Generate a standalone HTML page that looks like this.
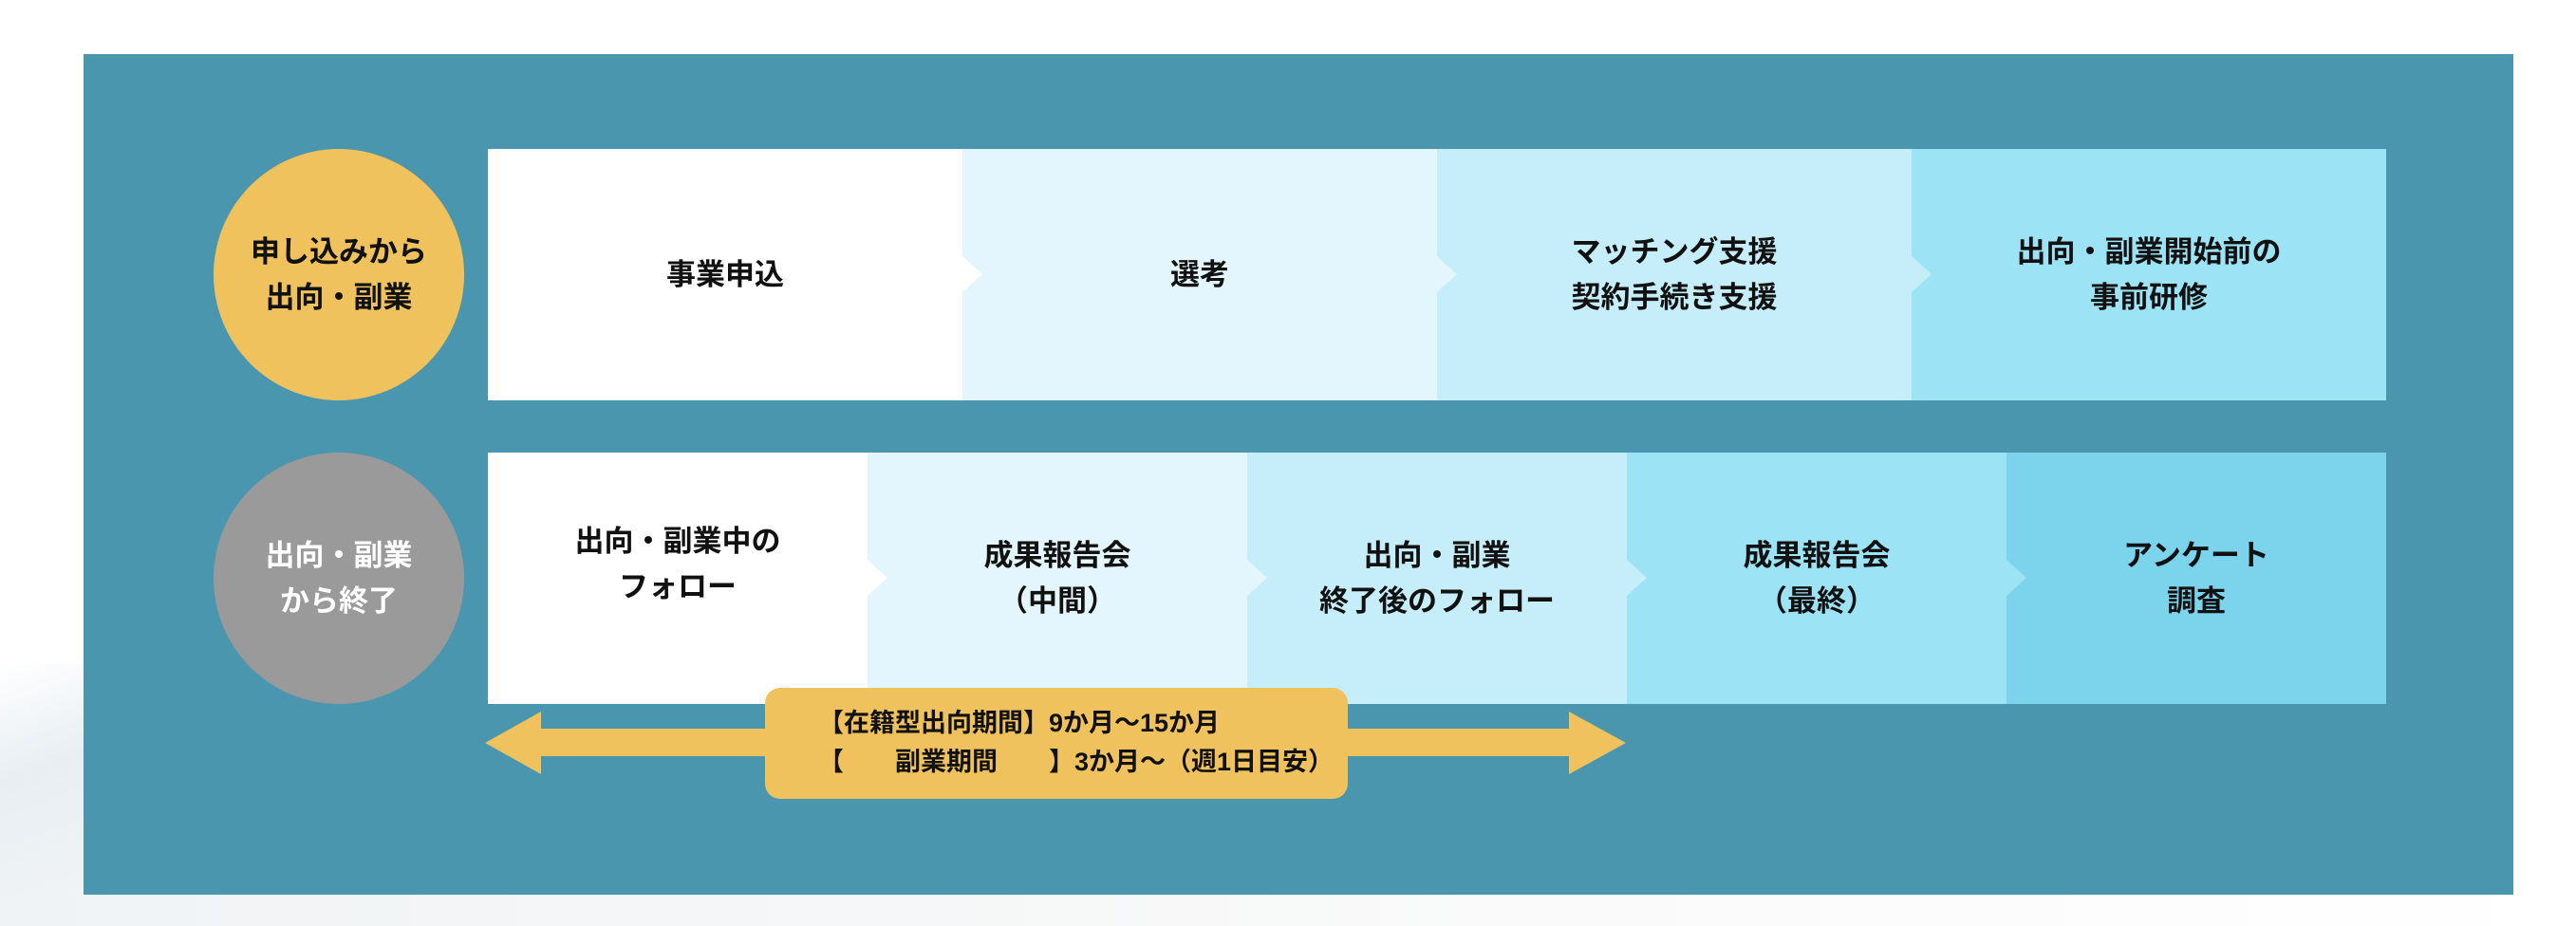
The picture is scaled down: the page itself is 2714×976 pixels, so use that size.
<!DOCTYPE html>
<html><head><meta charset="utf-8"><style>
body{margin:0;width:2714px;height:976px;background:#fff;position:relative;overflow:hidden;font-family:"Liberation Sans","Noto Sans CJK JP",sans-serif;font-weight:bold;color:#111}
.abs{position:absolute}
.panel{left:88px;top:57px;width:2560px;height:886px;background:#4a96ae}
.seg{position:absolute;display:flex;align-items:center;justify-content:center;text-align:center;font-size:31px;line-height:48px}
.circ{position:absolute;border-radius:50%;display:flex;align-items:center;justify-content:center;text-align:center;font-size:31px;line-height:48px}
.tri{position:absolute;width:0;height:0;border-top:19px solid transparent;border-bottom:19px solid transparent;border-left:21px solid}
</style></head><body>
<div class="abs" style="left:0;top:700px;width:100px;height:276px;background:linear-gradient(160deg,#fff 0%,#e8eef2 40%,#f2f5f7 100%)"></div>
<div class="abs" style="left:0;top:943px;width:2714px;height:33px;background:linear-gradient(90deg,#f0f3f5,#fafafa 60%,#fff)"></div>
<div class="abs panel"></div>

<div class="circ" style="left:225px;top:157px;width:264px;height:265px;background:#f0c25e">申し込みから<br>出向・副業</div>
<div class="circ" style="left:225px;top:477px;width:264px;height:265px;background:#9a9a9a;color:#fff">出向・副業<br>から終了</div>

<div class="seg" style="left:514px;top:157px;width:500px;height:265px;background:#fff">事業申込</div>
<div class="seg" style="left:1014px;top:157px;width:500px;height:265px;background:#e4f6fd">選考</div>
<div class="seg" style="left:1514px;top:157px;width:500px;height:265px;background:#c6eefa">マッチング支援<br>契約手続き支援</div>
<div class="seg" style="left:2014px;top:157px;width:500px;height:265px;background:#9ce3f6">出向・副業開始前の<br>事前研修</div>
<div class="tri" style="left:1014px;top:270px;border-left-color:#fff"></div>
<div class="tri" style="left:1514px;top:270px;border-left-color:#e4f6fd"></div>
<div class="tri" style="left:2014px;top:270px;border-left-color:#c6eefa"></div>

<div class="seg" style="left:514px;top:477px;width:400px;height:265px;background:#fff;padding-bottom:30px;box-sizing:border-box">出向・副業中の<br>フォロー</div>
<div class="seg" style="left:914px;top:477px;width:400px;height:265px;background:#e4f6fd">成果報告会<br>（中間）</div>
<div class="seg" style="left:1314px;top:477px;width:400px;height:265px;background:#c6eefa">出向・副業<br>終了後のフォロー</div>
<div class="seg" style="left:1714px;top:477px;width:400px;height:265px;background:#9ce3f6">成果報告会<br>（最終）</div>
<div class="seg" style="left:2114px;top:477px;width:400px;height:265px;background:#7bd3ec">アンケート<br>調査</div>
<div class="tri" style="left:914px;top:590px;border-left-color:#fff"></div>
<div class="tri" style="left:1314px;top:590px;border-left-color:#e4f6fd"></div>
<div class="tri" style="left:1714px;top:590px;border-left-color:#c6eefa"></div>
<div class="tri" style="left:2114px;top:590px;border-left-color:#9ce3f6"></div>

<svg class="abs" style="left:0;top:0" width="2714" height="976">
<polygon fill="#f0c25e" points="511,783 570,750 570,768 1653,768 1653,750 1713,783 1653,816 1653,797 570,797 570,816"/>
</svg>
<div class="abs" style="left:806px;top:725px;width:614px;height:117px;background:#f0c25e;border-radius:16px;font-size:27px;line-height:41px;padding:17px 0 0 56px;box-sizing:border-box;white-space:pre">【在籍型出向期間】9か月～15か月
【　　副業期間　　】3か月～（週1日目安）</div>
</body></html>
